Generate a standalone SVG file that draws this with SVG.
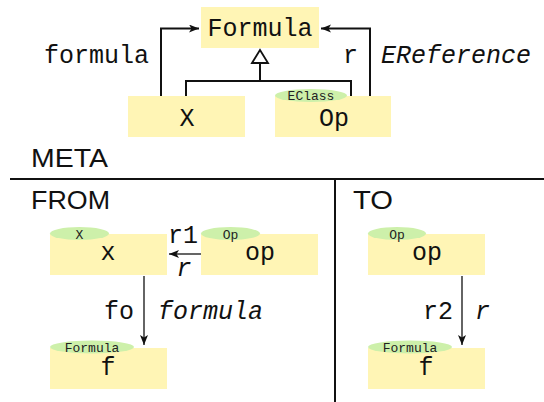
<svg xmlns="http://www.w3.org/2000/svg" width="544" height="402" viewBox="0 0 544 402">
<style>
.box{fill:#fff5b5;}
.tag{fill:#cdf0aa;}
.mono{font-family:"Liberation Mono","DejaVu Sans Mono",monospace;font-size:25px;fill:#111;}
.lbl{font-family:"Liberation Mono","DejaVu Sans Mono",monospace;font-size:25px;fill:#111;}
.ital{font-family:"Liberation Mono","DejaVu Sans Mono",monospace;font-size:25px;font-style:italic;fill:#111;}
.small{font-family:"Liberation Mono","DejaVu Sans Mono",monospace;font-size:13px;fill:#222;}
.sans{font-family:"Liberation Sans","DejaVu Sans",sans-serif;font-size:25px;fill:#111;}
.edge{fill:none;stroke:#111;}
.rule{stroke:#111;stroke-width:2;}
</style>
<defs>
<marker id="arr" markerUnits="userSpaceOnUse" markerWidth="12" markerHeight="10" refX="10" refY="4" orient="auto">
<path d="M0,0 L10,4 L0,8 L2.5,4 Z" fill="#111"/>
</marker>
<marker id="tri" markerUnits="userSpaceOnUse" markerWidth="18" markerHeight="16" refX="8" refY="14" orient="0">
<path d="M0,14 L8,1 L16,14 Z" fill="#fff" stroke="#111" stroke-width="1.8"/>
</marker>
</defs>

<!-- META -->
<g id="node-Formula">
<rect class="box" x="201" y="7" width="118" height="41"/>
<text class="mono" x="260" y="36" text-anchor="middle">Formula</text>
</g>
<g id="node-X">
<rect class="box" x="128" y="96" width="117" height="41"/>
<text class="mono" x="187" y="126" text-anchor="middle">X</text>
</g>
<g id="node-Op">
<rect class="box" x="275" y="96" width="116" height="41"/>
<ellipse class="tag" cx="311" cy="95.5" rx="36" ry="6.5"/>
<text class="small" x="311" y="100" text-anchor="middle">EClass</text>
<text class="mono" x="334" y="126" text-anchor="middle">Op</text>
</g>

<g id="connectors">
<polyline class="edge" stroke-width="2" points="161,96 161,28.5 199,28.5" marker-end="url(#arr)"/>
<polyline class="edge" stroke-width="2" points="370,96 370,28.5 321,28.5" marker-end="url(#arr)"/>
<polyline class="edge" stroke-width="2" points="186,96 186,81 351,81 351,96"/>
<line class="edge" stroke-width="2" x1="260" y1="81" x2="260" y2="64"/>
<path d="M252,63 L260,50 L268,63 Z" fill="#fff" stroke="#111" stroke-width="1.8"/>
<line class="edge" stroke-width="1.3" x1="201" y1="254" x2="169" y2="254" marker-end="url(#arr)"/>
<line class="edge" stroke-width="1.3" x1="144" y1="276" x2="144" y2="345" marker-end="url(#arr)"/>
<line class="edge" stroke-width="1.3" x1="462" y1="276" x2="462" y2="345" marker-end="url(#arr)"/>
</g>

<text class="lbl" x="149" y="63" text-anchor="end">formula</text>
<text class="lbl" x="358" y="63" text-anchor="end">r</text>
<text class="ital" x="381" y="63">EReference</text>

<text class="sans" x="31" y="167" textLength="77" lengthAdjust="spacingAndGlyphs">META</text>
<line class="rule" x1="10" y1="179" x2="544" y2="179"/>
<line class="rule" x1="335" y1="179" x2="335" y2="402"/>
<text class="sans" x="31" y="209" textLength="79" lengthAdjust="spacingAndGlyphs">FROM</text>
<text class="sans" x="353" y="209" textLength="40" lengthAdjust="spacingAndGlyphs">TO</text>

<!-- FROM -->
<g id="node-from-x">
<rect class="box" x="50" y="234" width="117" height="41"/>
<ellipse class="tag" cx="79.5" cy="233.5" rx="29.5" ry="6.5"/>
<text class="small" x="79.5" y="238.5" text-anchor="middle">X</text>
<text class="mono" x="108" y="260" text-anchor="middle">x</text>
</g>
<g id="node-from-op">
<rect class="box" x="201" y="234" width="117" height="41"/>
<ellipse class="tag" cx="230.5" cy="233.5" rx="29.5" ry="6.5"/>
<text class="small" x="230.5" y="238.5" text-anchor="middle">Op</text>
<text class="mono" x="260" y="260" text-anchor="middle">op</text>
</g>
<g id="node-from-f">
<rect class="box" x="50" y="348" width="117" height="41"/>
<ellipse class="tag" cx="92" cy="347" rx="42" ry="6.5"/>
<text class="small" x="92" y="351.5" text-anchor="middle">Formula</text>
<text class="mono" x="108" y="375" text-anchor="middle">f</text>
</g>
<text class="lbl" x="183" y="243" text-anchor="middle">r1</text>
<text class="ital" x="184" y="276" text-anchor="middle">r</text>
<text class="lbl" x="134" y="319" text-anchor="end">fo</text>
<text class="ital" x="158" y="319">formula</text>

<!-- TO -->
<g id="node-to-op">
<rect class="box" x="368" y="234" width="117" height="41"/>
<ellipse class="tag" cx="397" cy="233.5" rx="29" ry="6.5"/>
<text class="small" x="397" y="238.5" text-anchor="middle">Op</text>
<text class="mono" x="427" y="260" text-anchor="middle">op</text>
</g>
<g id="node-to-f">
<rect class="box" x="368" y="348" width="117" height="41"/>
<ellipse class="tag" cx="410" cy="347" rx="42" ry="6.5"/>
<text class="small" x="410" y="351.5" text-anchor="middle">Formula</text>
<text class="mono" x="426" y="375" text-anchor="middle">f</text>
</g>
<text class="lbl" x="453" y="319" text-anchor="end">r2</text>
<text class="ital" x="475" y="319">r</text>
</svg>
